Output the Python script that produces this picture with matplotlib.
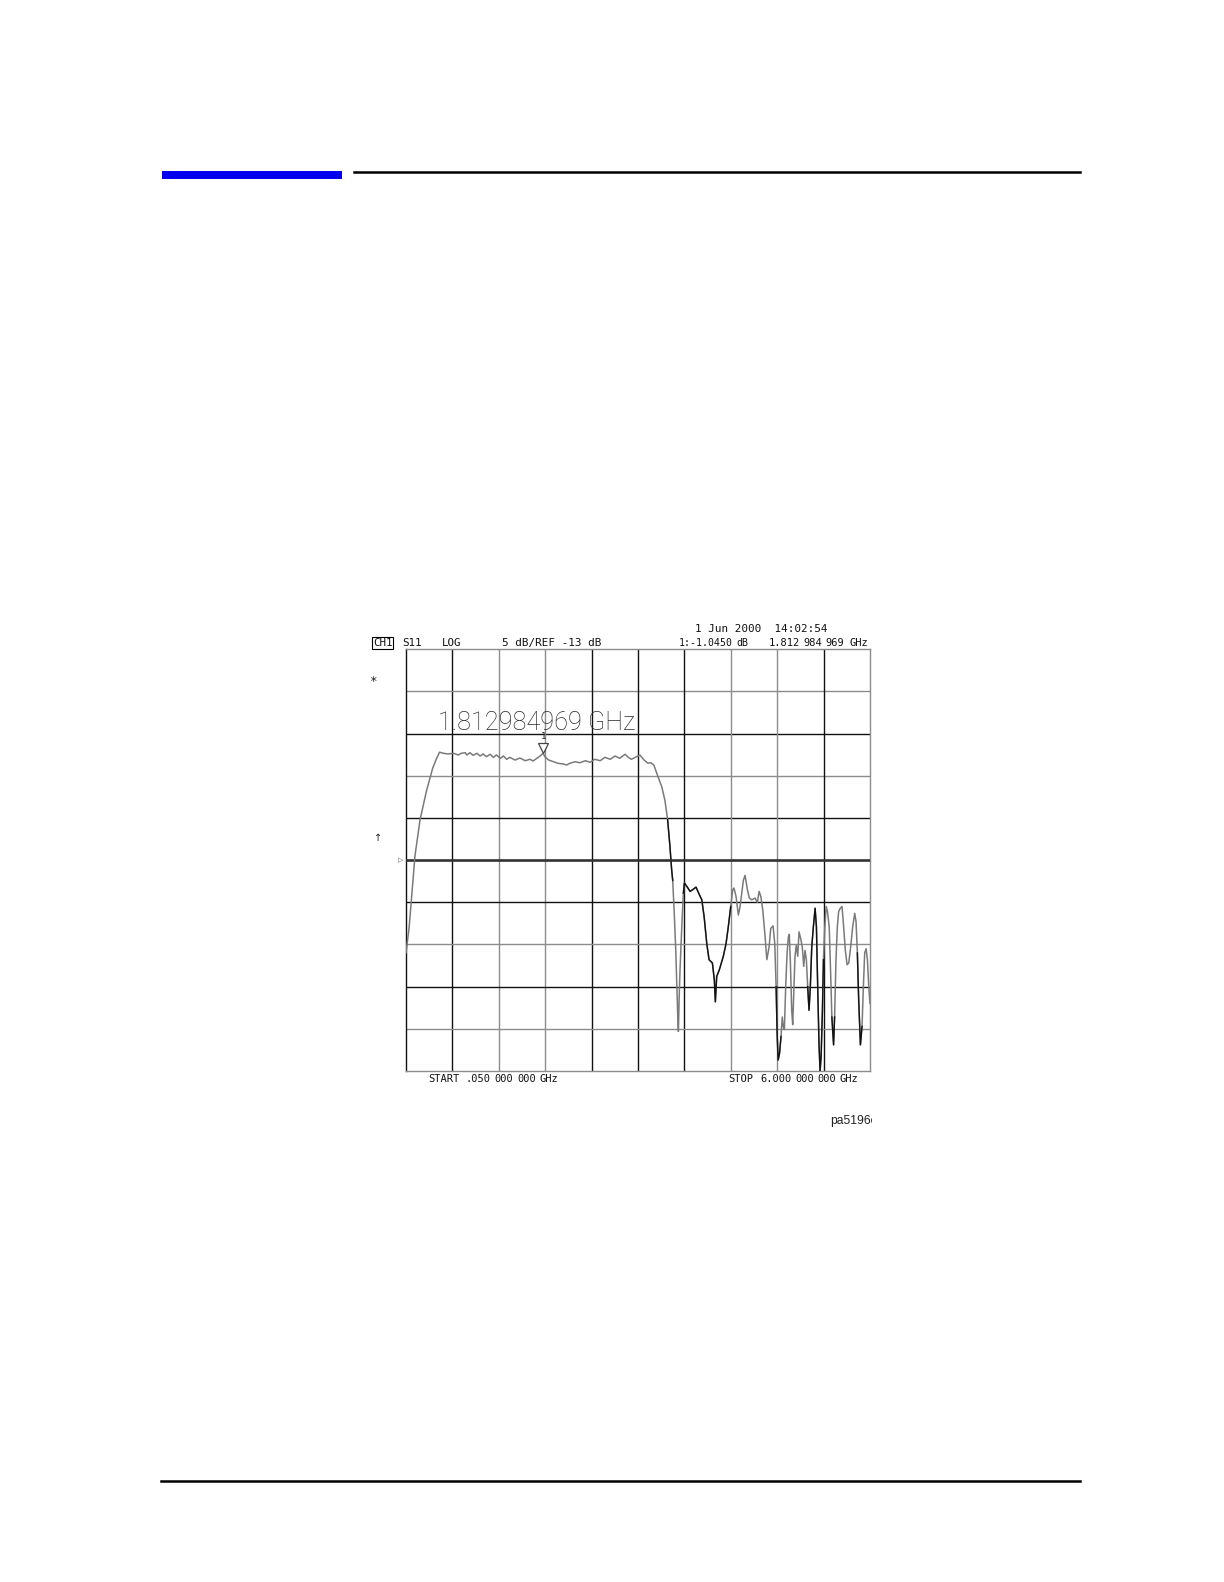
import numpy as np
import matplotlib
matplotlib.use("Agg")
import matplotlib.pyplot as plt
from matplotlib.patches import Rectangle
from matplotlib.lines import Line2D
import matplotlib.transforms as mtransforms

# ---------------- data ----------------
start_ghz = 0.05
stop_ghz = 6.0
ref_db = -13.0
db_per_div = 5.0
n_div = 10

marker_freq = 1.812984969
marker_label = "1"

freq_ghz = [
    0.050, 0.090, 0.130, 0.165, 0.230, 0.315, 0.392, 0.435, 0.480, 0.53,
    0.59, 0.66, 0.72, 0.76, 0.81, 0.83, 0.87, 0.91, 0.96, 1.00,
    1.04, 1.08, 1.13, 1.17, 1.21, 1.26, 1.30, 1.34, 1.38, 1.45,
    1.51, 1.58, 1.64, 1.68, 1.73, 1.77, 1.81, 1.83, 1.88, 1.94,
    2.00, 2.07, 2.11, 2.15, 2.22, 2.28, 2.35, 2.41, 2.47, 2.54,
    2.60, 2.67, 2.73, 2.79, 2.86, 2.90, 2.94, 2.99, 3.05, 3.10,
    3.15, 3.19, 3.23, 3.285, 3.33, 3.37, 3.405, 3.435, 3.457, 3.470,
    3.488, 3.509, 3.522, 3.535, 3.543, 3.552, 3.564, 3.577, 3.590, 3.607,
    3.620, 3.650, 3.693, 3.727, 3.769, 3.812, 3.843, 3.873, 3.907, 3.936,
    3.979, 4.004, 4.017, 4.034, 4.068, 4.119, 4.154, 4.183, 4.214, 4.240,
    4.256, 4.282, 4.312, 4.334, 4.355, 4.376, 4.398, 4.428, 4.453, 4.484,
    4.526, 4.556, 4.578, 4.600, 4.625, 4.655, 4.677, 4.706, 4.727, 4.757,
    4.779, 4.796, 4.809, 4.822, 4.840, 4.859, 4.875, 4.887, 4.902, 4.919,
    4.937, 4.953, 4.965, 4.978, 4.996, 5.009, 5.025, 5.038, 5.055, 5.073,
    5.090, 5.111, 5.132, 5.150, 5.167, 5.184, 5.201, 5.218, 5.235, 5.253,
    5.274, 5.296, 5.313, 5.331, 5.347, 5.360, 5.373, 5.390, 5.403, 5.421,
    5.438, 5.455, 5.477, 5.494, 5.511, 5.533, 5.546, 5.564, 5.581, 5.598,
    5.619, 5.641, 5.662, 5.684, 5.706, 5.727, 5.752, 5.778, 5.804, 5.821,
    5.838, 5.855, 5.877, 5.898, 5.915, 5.932, 5.950, 5.967, 5.984, 6.000,
]
s11_db = [
    -24.0, -21.0, -16.5, -12.5, -8.2, -4.7, -2.1, -1.1, -0.20, -0.33,
    -0.41, -0.33, -0.53, -0.33, -0.26, -0.53, -0.26, -0.57, -0.33, -0.65,
    -0.41, -0.73, -0.45, -0.81, -0.53, -0.92, -0.65, -1.04, -0.81, -1.13,
    -0.89, -1.21, -1.04, -1.24, -0.92, -0.65, -0.33, -0.73, -1.13, -1.33,
    -1.52, -1.60, -1.72, -1.52, -1.33, -1.45, -1.21, -1.40, -1.04, -1.21,
    -0.81, -1.04, -0.65, -0.92, -0.45, -0.81, -1.04, -0.81, -0.53, -1.10,
    -1.50, -1.45, -1.75, -3.2, -4.3, -5.9, -8.2, -11.4, -14.2, -15.4,
    -18.9, -23.6, -27.6, -31.6, -33.3, -29.6, -26.0, -22.9, -20.1, -16.9,
    -15.7, -16.1, -16.7, -16.5, -16.2, -17.1, -17.7, -19.7, -22.9, -24.8,
    -25.2, -27.2, -29.8, -26.8, -26.0, -24.4, -22.9, -20.9, -18.5, -16.5,
    -16.3, -17.3, -19.5, -18.5, -16.9, -15.4, -14.8, -16.5, -17.5, -17.7,
    -17.5, -18.0, -16.7, -17.3, -18.9, -22.1, -24.8, -23.3, -21.1, -20.8,
    -22.9, -28.0, -33.5, -36.7, -35.9, -33.9, -31.6, -32.7, -33.1, -28.0,
    -24.0, -22.1, -21.8, -24.8, -30.8, -32.5, -28.0, -24.4, -23.1, -24.4,
    -21.5, -22.3, -23.3, -25.6, -23.7, -24.8, -28.0, -30.8, -28.0, -23.3,
    -20.9, -18.7, -20.9, -28.8, -35.1, -38.0, -36.3, -30.8, -24.8, -20.9,
    -18.5, -19.1, -20.9, -26.0, -31.6, -34.9, -31.6, -24.8, -20.9, -19.1,
    -18.7, -18.5, -20.9, -23.7, -25.4, -25.2, -23.3, -20.9, -19.3, -20.3,
    -24.0, -29.6, -34.9, -32.7, -28.0, -24.0, -23.5, -24.8, -28.0, -30.0,
]
# frequency ranges where the plotted trace appears dark/black
dark_ranges = [(3.40, 3.47), (3.60, 4.22), (4.78, 4.86), (5.20, 5.42), (5.50, 5.56), (5.83, 5.90)]

date_text = "1 Jun 2000  14:02:54"
ch_text = "CH1"
param_text = "S11"
fmt_text = "LOG"
scale_text = "5 dB/REF -13 dB"
mkr_val_groups = ["1:-1.0450", "dB"]
mkr_freq_groups = ["1.812", "984", "969", "GHz"]
start_groups = ["START", ".050", "000", "000", "GHz"]
stop_groups = ["STOP", "6.000", "000", "000", "GHz"]
big_freq_text = "1.812984969 GHz"
fig_id_text = "pa5196e"

# ---------------- figure ----------------
W, H = 1224, 1582
fig = plt.figure(figsize=(W / 100, H / 100), dpi=100)
fig.patch.set_facecolor("white")


def fx(px):
    return px / W


def fy(py):
    return 1 - py / H


# page decorations
fig.patches.append(Rectangle((fx(161.5), fy(179)), (342 - 161.5) / W, 8 / H,
                             transform=fig.transFigure, facecolor="#0000ee",
                             edgecolor="none"))
fig.lines.append(Line2D([fx(354), fx(1080)], [fy(172), fy(172)],
                        transform=fig.transFigure, color="black", lw=1.8))
fig.lines.append(Line2D([fx(161), fx(1080)], [fy(1481), fy(1481)],
                        transform=fig.transFigure, color="black", lw=1.8))

# chart axes
ax = fig.add_axes([fx(406), fy(1071), (870 - 406) / W, (1071 - 649.3) / H])
top = ref_db + db_per_div * n_div / 2
bot = ref_db - db_per_div * n_div / 2
ax.set_xlim(start_ghz, stop_ghz)
ax.set_ylim(bot, top)
ax.set_xticks([])
ax.set_yticks([])

BLK = "#111111"
GRY = "#8c8c8c"
vcols = [BLK, BLK, GRY, GRY, BLK, BLK, BLK, GRY, GRY, BLK, GRY]
hcols = [GRY, GRY, BLK, GRY, BLK, None, BLK, GRY, BLK, GRY, GRY]  # top -> bottom
xg = np.linspace(start_ghz, stop_ghz, n_div + 1)
yg = np.linspace(top, bot, n_div + 1)
for i in range(1, n_div):
    ax.axvline(xg[i], color=vcols[i], lw=1.0, zorder=1)
    if hcols[i] is not None:
        ax.axhline(yg[i], color=hcols[i], lw=1.0, zorder=1)
ax.spines["left"].set_color(vcols[0])
ax.spines["right"].set_color(vcols[-1])
ax.spines["top"].set_color(hcols[0])
ax.spines["bottom"].set_color(hcols[-1])
for s in ax.spines.values():
    s.set_linewidth(1.0)

# reference line
ax.axhline(ref_db, color="#333333", lw=1.9, zorder=3)

# trace
f = np.array(freq_ghz)
d = np.array(s11_db)
ax.plot(f, d, color="#7a7a7a", lw=1.1, zorder=4)
for a, b in dark_ranges:
    m = (f >= a - 1e-9) & (f <= b + 1e-9)
    ax.plot(f[m], d[m], color="#111111", lw=1.0, zorder=5)

# marker
mdb = float(np.interp(marker_freq, f, d))
off = mtransforms.offset_copy(ax.transData, fig=fig, x=0, y=6, units="dots")
ax.plot([marker_freq], [mdb], marker="v", ms=7, mfc="white", mec="#444444",
        mew=0.9, transform=off, zorder=6, clip_on=False)
ax.text(marker_freq, mdb, marker_label, transform=mtransforms.offset_copy(
    ax.transData, fig=fig, x=0, y=17, units="dots"),
    ha="center", va="center", fontsize=6.5, family="DejaVu Sans Mono",
    color="#222222", zorder=6)

# big frequency readout
fig.text(fx(438), fy(723), big_freq_text, ha="left", va="center",
         fontsize=18.2, family="Roboto", fontweight="light", color="#2a2a2a")

# header texts
mono = dict(family="DejaVu Sans Mono", fontsize=7.5, color="#111111", va="center")


def groups(words, lefts, y, size=7.5):
    for w, x in zip(words, lefts):
        fig.text(fx(x), fy(y), w, ha="left", **{**mono, "fontsize": size})


fig.text(fx(695), fy(629), date_text, ha="left",
         **{**mono, "fontsize": 7.9})
fig.text(fx(373), fy(643), ch_text, ha="left",
         bbox=dict(boxstyle="square,pad=0.08", fc="white", ec="black", lw=0.8),
         **{**mono, "fontsize": 7.8})
fig.text(fx(402), fy(643), param_text, ha="left", **{**mono, "fontsize": 7.8})
fig.text(fx(442), fy(643), fmt_text, ha="left", **{**mono, "fontsize": 7.8})
fig.text(fx(502), fy(643), scale_text, ha="left", **{**mono, "fontsize": 7.9})
groups(mkr_val_groups, [679, 736], 643, size=7.1)
groups(mkr_freq_groups, [769, 803, 825, 850], 643)
groups(start_groups, [428, 465, 494, 517, 540], 1079)
groups(stop_groups, [728, 760, 795, 817, 840], 1079)

# left side annotations
fig.text(fx(373), fy(681), "*", ha="center", va="center", fontsize=9,
         family="DejaVu Sans Mono", color="#222222")
fig.text(fx(378), fy(838), "\u2191", ha="center", va="center", fontsize=7,
         family="DejaVu Sans", color="#222222")
fig.text(fx(401), fy(860), "\u25b7", ha="center", va="center", fontsize=5,
         family="DejaVu Sans", color="#555555")

# figure id (clipped at the right edge)
axid = fig.add_axes([fx(800), fy(1135), (872 - 800) / W, 30 / H])
axid.set_axis_off()
axid.set_xlim(800, 872)
axid.set_ylim(1135, 1105)
axid.text(830, 1121, fig_id_text, ha="left", va="center", fontsize=8.7,
          family="Liberation Sans", color="#222222", clip_on=True)

fig.savefig("out.png", dpi=100, facecolor="white")
